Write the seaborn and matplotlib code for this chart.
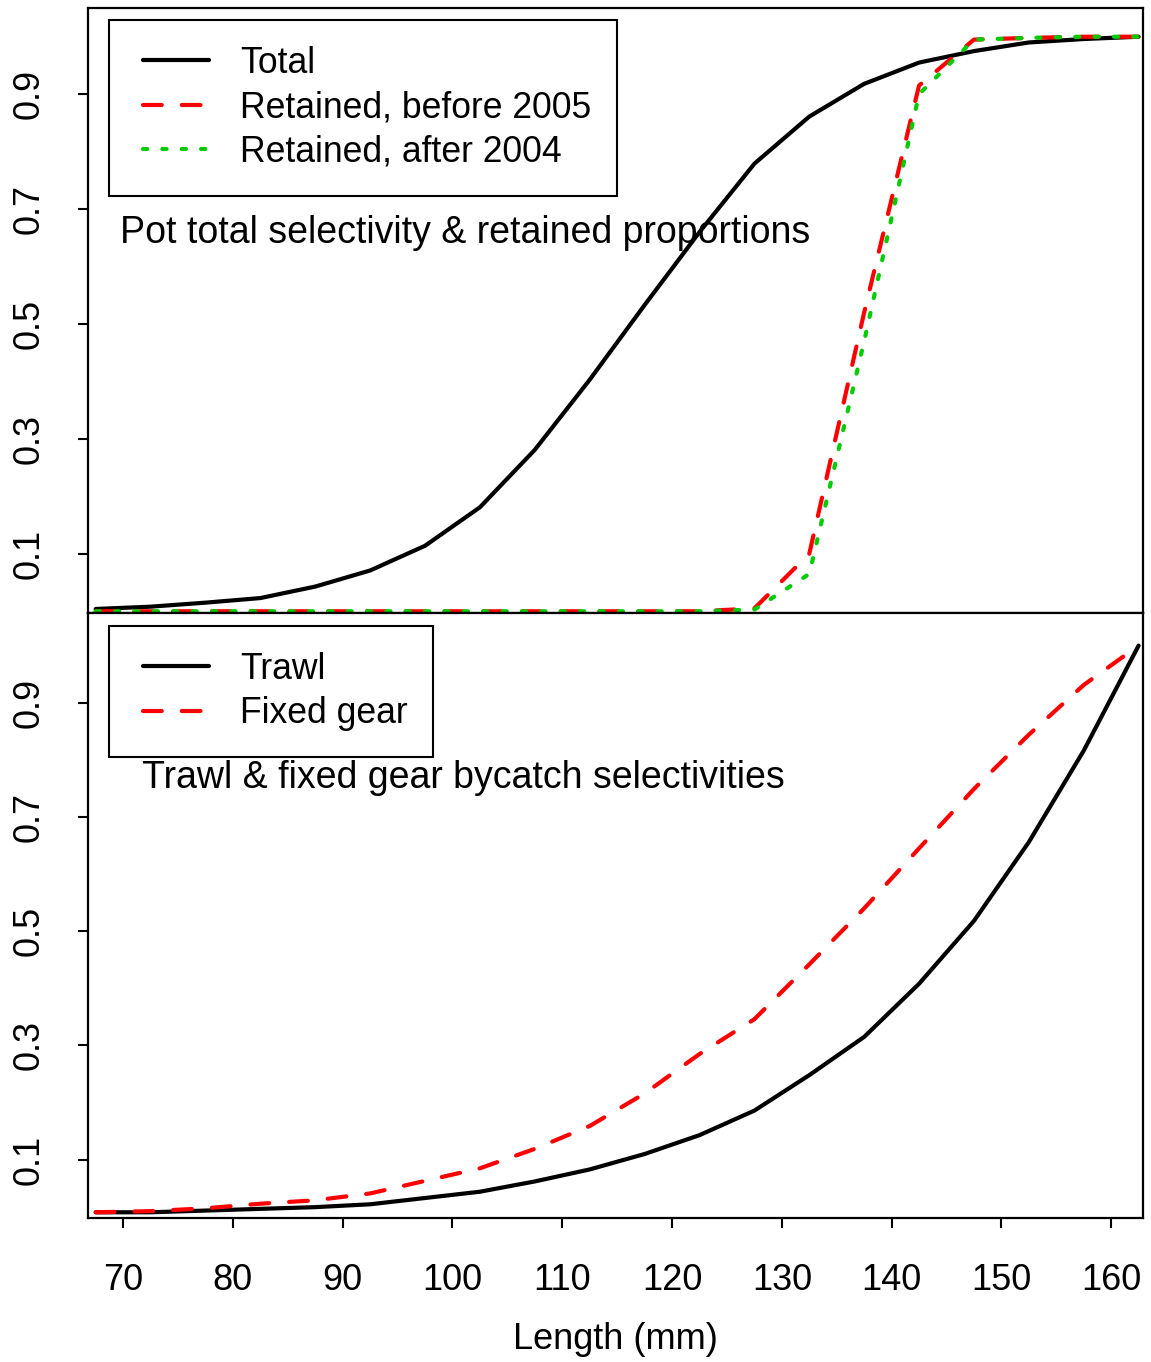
import pandas as pd
import matplotlib
matplotlib.use("Agg")
import matplotlib.pyplot as plt
import seaborn as sns
from matplotlib.legend_handler import HandlerLine2D
from matplotlib.lines import Line2D

# length bin midpoints (mm)
length = [67.5, 72.5, 77.5, 82.5, 87.5, 92.5, 97.5, 102.5, 107.5, 112.5,
          117.5, 122.5, 127.5, 132.5, 137.5, 142.5, 147.5, 152.5, 157.5, 162.5]

# pot fishery
pot_total = [0.004, 0.008, 0.015, 0.023, 0.043, 0.071, 0.114, 0.181, 0.281, 0.403,
             0.533, 0.660, 0.779, 0.861, 0.918, 0.955, 0.975, 0.990, 0.996, 1.000]
retained_before = [0, 0, 0, 0, 0, 0, 0, 0, 0, 0,
                   0, 0, 0.005, 0.100, 0.520, 0.915, 0.995, 0.998, 1.000, 1.000]
retained_after = [0, 0, 0, 0, 0, 0, 0, 0, 0, 0,
                  0, 0, 0.003, 0.065, 0.470, 0.900, 0.995, 0.998, 1.000, 1.000]

# bycatch fisheries
trawl = [0.008, 0.008, 0.011, 0.014, 0.017, 0.022, 0.033, 0.044, 0.062, 0.083,
         0.110, 0.143, 0.186, 0.248, 0.315, 0.408, 0.518, 0.656, 0.816, 1.000]
fixed_gear = [0.008, 0.010, 0.015, 0.023, 0.029, 0.041, 0.063, 0.085, 0.119, 0.159,
              0.216, 0.285, 0.346, 0.442, 0.540, 0.645, 0.749, 0.844, 0.931, 1.000]

yticks = [0.1, 0.3, 0.5, 0.7, 0.9]
xticks = [70, 80, 90, 100, 110, 120, 130, 140, 150, 160]

top_df = pd.DataFrame({"Length": length, "Total": pot_total,
                       "Before": retained_before, "After": retained_after})
bot_df = pd.DataFrame({"Length": length, "Trawl": trawl, "Fixed": fixed_gear})

sns.set_theme(style="white")
plt.rcParams["font.family"] = ["Liberation Sans", "DejaVu Sans"]
plt.rcParams.update({"text.color": "black", "axes.labelcolor": "black",
                     "xtick.color": "black", "ytick.color": "black",
                     "axes.edgecolor": "black"})

W, H = 1151, 1362
fig = plt.figure(figsize=(W / 100, H / 100), dpi=100)
ax1 = fig.add_axes([88 / W, 1 - 613 / H, 1055 / W, 605 / H])
ax2 = fig.add_axes([88 / W, 1 - 1218 / H, 1055 / W, 605 / H])

lw = 3.0
dash = (0, (4.5, 4.8))
dot = (0, (1.0, 3.65))
solid_kw = dict(lw=lw, solid_capstyle="round", solid_joinstyle="round")
dash_kw = dict(lw=lw, dash_capstyle="round", dash_joinstyle="round")

sns.lineplot(data=top_df, x="Length", y="Total", ax=ax1, color="black", label="Total", **solid_kw)
sns.lineplot(data=top_df, x="Length", y="Before", ax=ax1, color="#ff0000",
             linestyle=dash, label="Retained, before 2005", **dash_kw)
sns.lineplot(data=top_df, x="Length", y="After", ax=ax1, color="#00cc00",
             linestyle=dot, label="Retained, after 2004", **dash_kw)

sns.lineplot(data=bot_df, x="Length", y="Trawl", ax=ax2, color="black", label="Trawl", **solid_kw)
sns.lineplot(data=bot_df, x="Length", y="Fixed", ax=ax2, color="#ff0000",
             linestyle=dash, label="Fixed gear", **dash_kw)

fs = 26
for ax, ylim in ((ax1, (-0.003, 1.05)), (ax2, (-0.002, 1.057))):
    ax.set_xlim(66.8, 162.9)
    ax.set_ylim(*ylim)
    ax.set_yticks(yticks)
    ax.set_yticklabels([f"{v:.1f}" for v in yticks], rotation=90, va="center")
    ax.tick_params(axis="y", direction="out", length=7, width=1.5, labelsize=fs, pad=23, left=True)
    ax.set_ylabel("")
    for s in ax.spines.values():
        s.set_linewidth(1.6)

ax1.tick_params(axis="x", bottom=False, labelbottom=False)
ax1.set_xlabel("")
ax2.set_xticks(xticks)
ax2.tick_params(axis="x", direction="out", length=7, width=1.5, labelsize=fs, pad=25.5, bottom=True)
ax2.set_xlabel("Length (mm)", fontsize=fs, labelpad=17.5)

# shift the legend handles a bit to the right, like the R legend
hmap = {Line2D: HandlerLine2D(xpad=0.25)}
leg_kw = dict(loc="upper left", fontsize=25.6, frameon=True, fancybox=False,
              edgecolor="black", framealpha=1, borderaxespad=0, borderpad=0.72,
              handlelength=2.1, handletextpad=0.86, labelspacing=0.27, handler_map=hmap)
l1 = ax1.legend(bbox_to_anchor=(0.0199, 0.980), **leg_kw)
l2 = ax2.legend(bbox_to_anchor=(0.0199, 0.9785), **leg_kw)
for lg in (l1, l2):
    lg.get_frame().set_linewidth(1.5)

ax1.text(0.0303, 0.628, "Pot total selectivity & retained proportions",
         transform=ax1.transAxes, fontsize=27, ha="left", va="center")
ax2.text(0.0512, 0.727, "Trawl & fixed gear bycatch selectivities",
         transform=ax2.transAxes, fontsize=27, ha="left", va="center")

fig.savefig("out.png", dpi=100)
